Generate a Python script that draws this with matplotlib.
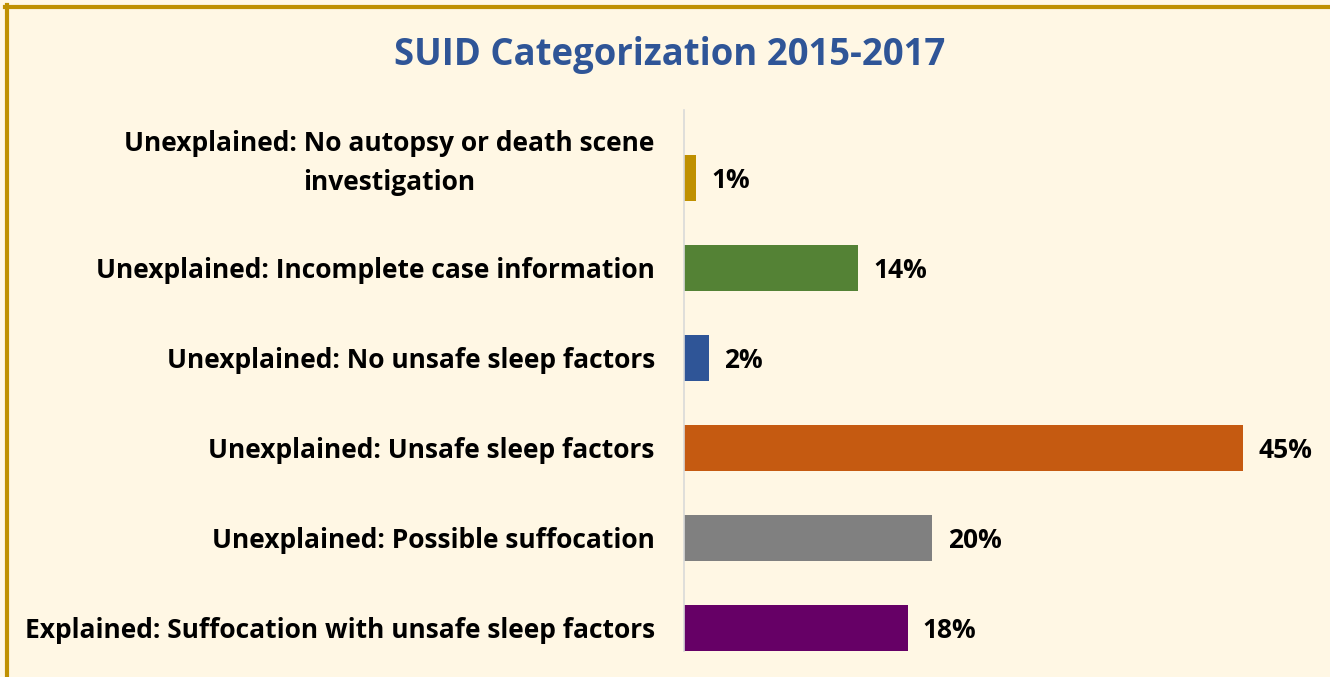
import matplotlib
matplotlib.use("Agg")
import matplotlib.pyplot as plt
from matplotlib.lines import Line2D
from matplotlib.transforms import ScaledTranslation

categories = [
    "Explained: Suffocation with unsafe sleep factors",
    "Unexplained: Possible suffocation",
    "Unexplained: Unsafe sleep factors",
    "Unexplained: No unsafe sleep factors",
    "Unexplained: Incomplete case information",
    "Unexplained: No autopsy or death scene\ninvestigation",
]
values = [18, 20, 45, 2, 14, 1]
colors = ["#660066", "#808080", "#C55A11", "#2F5597", "#548235", "#BF9000"]
title = "SUID Categorization 2015-2017"

W, H = 1330, 677
bg = "#FFF7E4"
fig = plt.figure(figsize=(W / 100, H / 100), dpi=100, facecolor=bg)
plt.rcParams["font.family"] = ["Open Sans", "DejaVu Sans"]

x0 = 684 / W
ytop = 110
ybot = 651
ax = fig.add_axes([x0, 1 - ybot / H, 1 - x0, (ybot - ytop) / H])
ax.set_facecolor(bg)
ypos = list(range(len(categories)))
ax.barh(ypos, values, height=0.51, color=colors)
ax.set_xlim(0, (W - 684) / 12.42)
ax.set_ylim(-23 / 90, 5 + 68 / 90)
ax.set_yticks(ypos)
ax.set_yticklabels(categories, fontsize=19, fontweight="bold", multialignment="center",
                   linespacing=1.55)
ax.tick_params(axis="y", length=0, pad=21)
ax.set_xticks([])
for s in ["top", "right", "bottom"]:
    ax.spines[s].set_visible(False)
ax.spines["left"].set_color("#D9D9D9")
ax.spines["left"].set_linewidth(1.2)

# two-line label sits slightly higher than its bar
for lab in ax.get_yticklabels():
    if "\n" in lab.get_text():
        lab.set_transform(lab.get_transform() + ScaledTranslation(0, 0.24, fig.dpi_scale_trans))

for y, v in zip(ypos, values):
    ax.annotate(f"{v}%", (v, y), xytext=(11, -2), textcoords="offset points",
                va="center", ha="left", fontsize=19, fontweight="bold")

fig.text(670 / W, 1 - 55 / H, title, ha="center", va="center",
         fontsize=26.3, fontweight="bold", color="#2F5597")

# border (top and left)
fig.add_artist(Line2D([5 / W, 1], [1 - 7 / H, 1 - 7 / H], color="#BF9000", lw=3, transform=fig.transFigure))
fig.add_artist(Line2D([7 / W, 7 / W], [0, 1 - 5 / H], color="#BF9000", lw=3, transform=fig.transFigure))

fig.savefig("out.png", dpi=100, facecolor=bg)
